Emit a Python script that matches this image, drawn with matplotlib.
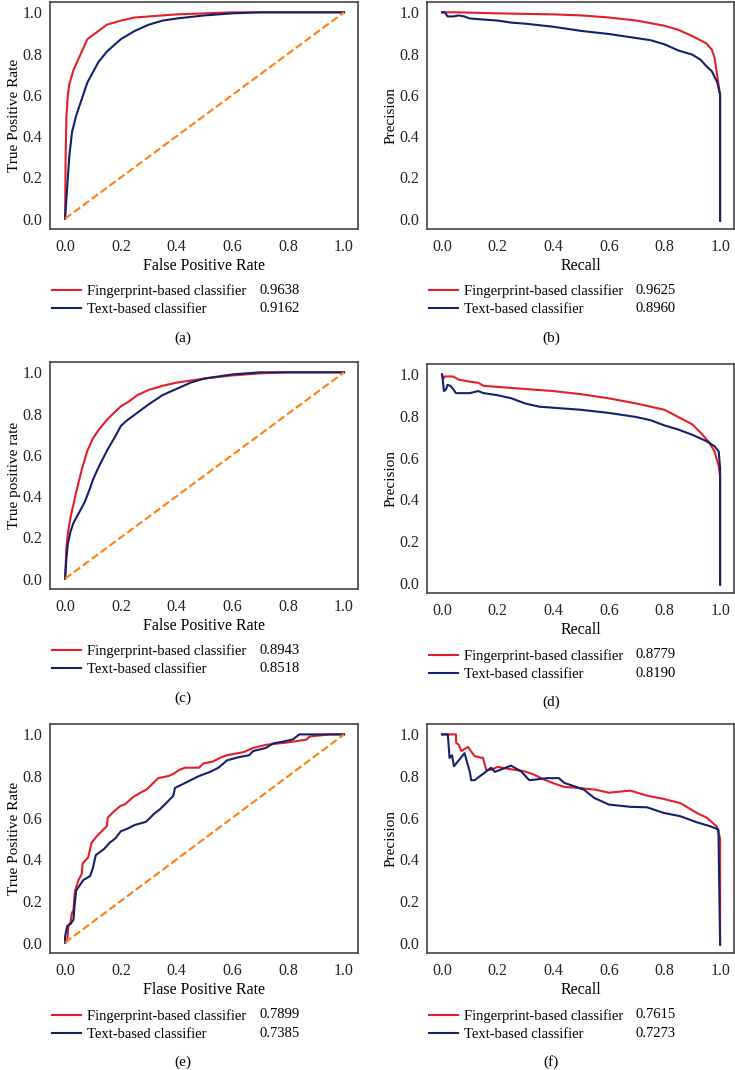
import numpy as np
import matplotlib as mpl
import matplotlib.pyplot as plt

mpl.rcParams['font.family'] = ['Liberation Serif', 'DejaVu Serif']
mpl.rcParams['font.size'] = 10

RED = '#e31e26'
BLUE = '#15206b'
ORANGE = '#ff7f0e'

names = ['Fingerprint-based classifier', 'Text-based classifier']

# (a) ROC
a_fp_x = [0, 0.002, 0.005, 0.01, 0.015, 0.03, 0.05, 0.08, 0.12, 0.15, 0.2, 0.25, 0.3, 0.4, 0.5, 0.6, 1.0]
a_fp_y = [0, 0.3, 0.5, 0.6, 0.65, 0.72, 0.78, 0.87, 0.91, 0.94, 0.96, 0.975, 0.98, 0.99, 0.995, 1.0, 1.0]
a_tx_x = [0, 0.01, 0.015, 0.025, 0.04, 0.06, 0.08, 0.1, 0.12, 0.15, 0.2, 0.25, 0.3, 0.35, 0.4, 0.5, 0.6, 0.7, 1.0]
a_tx_y = [0, 0.2, 0.3, 0.42, 0.5, 0.58, 0.66, 0.71, 0.76, 0.81, 0.87, 0.91, 0.94, 0.96, 0.97, 0.985, 0.995, 1.0, 1.0]
a_auc = ['0.9638', '0.9162']

# (b) PR
b_fp_x = [0, 0.05, 0.2, 0.4, 0.5, 0.6, 0.7, 0.8, 0.85, 0.9, 0.95, 0.97, 0.98, 0.99, 1.0, 1.0]
b_fp_y = [1.0, 1.0, 0.995, 0.99, 0.985, 0.975, 0.96, 0.935, 0.915, 0.885, 0.85, 0.82, 0.78, 0.69, 0.6, -0.01]
b_tx_x = [0, 0.01, 0.02, 0.04, 0.06, 0.08, 0.1, 0.15, 0.2, 0.25, 0.3, 0.4, 0.5, 0.6, 0.7, 0.75, 0.8,
          0.85, 0.9, 0.93, 0.95, 0.97, 0.99, 1.0, 1.0]
b_tx_y = [1.0, 1.0, 0.98, 0.98, 0.985, 0.98, 0.97, 0.965, 0.96, 0.95, 0.945, 0.93, 0.91, 0.895, 0.875,
          0.865, 0.845, 0.815, 0.795, 0.77, 0.74, 0.715, 0.66, 0.6, -0.01]
b_auc = ['0.9625', '0.8960']

# (c) ROC
c_fp_x = [0, 0.005, 0.01, 0.02, 0.04, 0.06, 0.08, 0.1, 0.12, 0.15, 0.18, 0.2, 0.23, 0.26, 0.3, 0.35,
          0.4, 0.45, 0.5, 0.6, 0.7, 0.8, 1.0]
c_fp_y = [0, 0.15, 0.22, 0.3, 0.42, 0.53, 0.62, 0.68, 0.72, 0.77, 0.81, 0.835, 0.86, 0.89, 0.915, 0.935,
          0.95, 0.96, 0.97, 0.985, 0.995, 1.0, 1.0]
c_tx_x = [0, 0.005, 0.01, 0.02, 0.03, 0.05, 0.07, 0.09, 0.1, 0.12, 0.15, 0.18, 0.2, 0.22, 0.25, 0.3,
          0.35, 0.4, 0.45, 0.5, 0.6, 0.7, 1.0]
c_tx_y = [0, 0.1, 0.17, 0.23, 0.27, 0.32, 0.37, 0.44, 0.48, 0.54, 0.62, 0.69, 0.74, 0.765, 0.795, 0.845,
          0.89, 0.92, 0.95, 0.97, 0.99, 1.0, 1.0]
c_auc = ['0.8943', '0.8518']

# (d) PR
d_fp_x = [0, 0.005, 0.01, 0.04, 0.06, 0.1, 0.13, 0.15, 0.2, 0.3, 0.4, 0.5, 0.6, 0.7, 0.8, 0.85, 0.9,
          0.93, 0.96, 0.98, 0.995, 1.0, 1.0]
d_fp_y = [1.0, 0.98, 0.99, 0.99, 0.975, 0.965, 0.96, 0.945, 0.94, 0.93, 0.92, 0.905, 0.885, 0.86, 0.83,
          0.795, 0.76, 0.72, 0.675, 0.63, 0.56, 0.51, -0.01]
d_tx_x = [0, 0.003, 0.007, 0.015, 0.02, 0.03, 0.04, 0.05, 0.1, 0.13, 0.15, 0.2, 0.25, 0.3, 0.35, 0.4,
          0.5, 0.6, 0.7, 0.75, 0.8, 0.85, 0.9, 0.95, 0.98, 0.995, 1.0, 1.0]
d_tx_y = [1.0, 0.97, 0.92, 0.93, 0.95, 0.945, 0.93, 0.91, 0.91, 0.92, 0.91, 0.9, 0.885, 0.86, 0.845,
          0.84, 0.83, 0.815, 0.795, 0.78, 0.755, 0.735, 0.71, 0.68, 0.655, 0.63, 0.55, -0.01]
d_auc = ['0.8779', '0.8190']

# (e) ROC
e_fp_x = [0, 0.008, 0.012, 0.02, 0.024, 0.03, 0.035, 0.048, 0.06, 0.063, 0.083, 0.095, 0.113, 0.15,
          0.153, 0.175, 0.197, 0.215, 0.245, 0.27, 0.292, 0.315, 0.334, 0.37, 0.388, 0.41, 0.43, 0.48,
          0.495, 0.53, 0.56, 0.58, 0.64, 0.674, 0.72, 0.79, 0.84, 0.865, 0.877, 0.95, 1.0]
e_fp_y = [0, 0.01, 0.08, 0.1, 0.14, 0.157, 0.245, 0.3, 0.33, 0.38, 0.41, 0.48, 0.51, 0.56,
          0.6, 0.63, 0.655, 0.665, 0.7, 0.72, 0.735, 0.765, 0.79, 0.8, 0.81, 0.83, 0.84, 0.84,
          0.86, 0.87, 0.89, 0.9, 0.915, 0.935, 0.95, 0.96, 0.97, 0.975, 0.99, 1.0, 1.0]
e_tx_x = [0, 0.0, 0.008, 0.02, 0.03, 0.035, 0.04, 0.05, 0.065, 0.09, 0.1, 0.11, 0.12, 0.14, 0.16, 0.18,
          0.2, 0.22, 0.25, 0.29, 0.32, 0.34, 0.37, 0.388, 0.394, 0.42, 0.45, 0.48, 0.52, 0.55, 0.58,
          0.62, 0.66, 0.674, 0.72, 0.746, 0.78, 0.817, 0.83, 0.84, 1.0]
e_tx_y = [0, 0.03, 0.08, 0.09, 0.11, 0.19, 0.25, 0.27, 0.3, 0.32, 0.36, 0.42, 0.43, 0.45, 0.48, 0.5,
          0.535, 0.545, 0.565, 0.58, 0.62, 0.64, 0.68, 0.706, 0.743, 0.76, 0.78, 0.8, 0.82, 0.84, 0.875,
          0.89, 0.9, 0.92, 0.935, 0.957, 0.965, 0.976, 0.99, 1.0, 1.0]
e_auc = ['0.7899', '0.7385']

# (f) PR
f_fp_x = [0, 0.05, 0.051, 0.06, 0.07, 0.093, 0.117, 0.14, 0.147, 0.159, 0.177, 0.2, 0.236, 0.296, 0.33,
          0.368, 0.403, 0.44, 0.487, 0.55, 0.6, 0.678, 0.737, 0.797, 0.857, 0.916, 0.952, 0.988, 1.0, 1.0]
f_fp_y = [1.0, 1.0, 0.96, 0.95, 0.92, 0.94, 0.896, 0.888, 0.888, 0.83, 0.83, 0.844, 0.835, 0.823, 0.807,
          0.783, 0.764, 0.748, 0.743, 0.735, 0.72, 0.73, 0.706, 0.69, 0.67, 0.623, 0.6, 0.558, 0.5, -0.01]
f_tx_x = [0, 0.021, 0.027, 0.036, 0.043, 0.081, 0.1, 0.105, 0.117, 0.177, 0.19, 0.248, 0.284, 0.314, 0.38,
          0.42, 0.44, 0.51, 0.547, 0.6, 0.678, 0.737, 0.797, 0.857, 0.916, 0.964, 0.994, 1.0]
f_tx_y = [1.0, 1.0, 0.887, 0.9, 0.847, 0.91, 0.82, 0.78, 0.78, 0.84, 0.82, 0.85, 0.823, 0.78, 0.79,
          0.79, 0.767, 0.735, 0.695, 0.663, 0.652, 0.65, 0.623, 0.607, 0.578, 0.559, 0.543, -0.01]
f_auc = ['0.7615', '0.7273']

panels = [
	('(a)', a_fp_x, a_fp_y, a_tx_x, a_tx_y, a_auc, 'False Positive Rate', 'True Positive Rate', True),
	('(b)', b_fp_x, b_fp_y, b_tx_x, b_tx_y, b_auc, 'Recall', 'Precision', False),
	('(c)', c_fp_x, c_fp_y, c_tx_x, c_tx_y, c_auc, 'False Positive Rate', 'True positive rate', True),
	('(d)', d_fp_x, d_fp_y, d_tx_x, d_tx_y, d_auc, 'Recall', 'Precision', False),
	('(e)', e_fp_x, e_fp_y, e_tx_x, e_tx_y, e_auc, 'Flase Positive Rate', 'True Positive Rate', True),
	('(f)', f_fp_x, f_fp_y, f_tx_x, f_tx_y, f_auc, 'Recall', 'Precision', False),
]

# axes boxes in pixels: left, top, right, bottom
W, H = 735, 1070
boxes = [(50, 2, 358, 229), (427, 2, 734, 229),
         (50, 362, 358, 589), (427, 364, 734, 593),
         (50, 724, 358, 953), (427, 724, 734, 953)]

fig = plt.figure(figsize=(W / 100, H / 100), dpi=100)

for i, (cap, fx, fy, tx, ty, auc, xl, yl, roc) in enumerate(panels):
	l, t, r, b = boxes[i]
	ax = fig.add_axes([l / W, 1 - b / H, (r - l) / W, (b - t) / H])
	h1, = ax.plot(fx, fy, color=RED, lw=1.5, label=names[0])
	h2, = ax.plot(tx, ty, color=BLUE, lw=1.5, label=names[1])
	if roc:
		ax.plot([0, 1], [0, 1], color=ORANGE, lw=1.5, ls='--')
	ax.set_xlim(-0.054, 1.05)
	ax.set_ylim(-0.05, 1.05)
	ax.set_xticks(np.arange(0, 1.01, 0.2))
	ax.set_yticks(np.arange(0, 1.01, 0.2))
	ax.xaxis.set_major_formatter(mpl.ticker.FormatStrFormatter('%.1f'))
	ax.yaxis.set_major_formatter(mpl.ticker.FormatStrFormatter('%.1f'))
	ax.tick_params(length=0, labelsize=11.5, colors='#222222')
	ax.tick_params(axis='x', pad=7)
	ax.tick_params(axis='y', pad=5.5)
	for s in ax.spines.values():
		s.set_color('#444444')
		s.set_linewidth(1.2)
	ax.set_xlabel(xl, fontsize=11.5, labelpad=2)
	ax.set_ylabel(yl, fontsize=11)
	ax.yaxis.set_label_coords(-0.095, 0.5)

	leg = ax.legend(handles=[h1, h2], loc='upper left', bbox_to_anchor=(0.005, -0.245),
	                frameon=False, fontsize=10.5, handlelength=2.0, handletextpad=0.45,
	                labelspacing=0.32, borderaxespad=0, borderpad=0)
	ax.text(0.68, -0.27, auc[0], transform=ax.transAxes, fontsize=10.5, va='center')
	ax.text(0.68, -0.35, auc[1], transform=ax.transAxes, fontsize=10.5, va='center')

	cx = 183 if i % 2 == 0 else 551
	fig.text(cx / W, 1 - (b + 109) / H, cap, ha='center', va='center', fontsize=11)

fig.savefig('out.png', dpi=100)
